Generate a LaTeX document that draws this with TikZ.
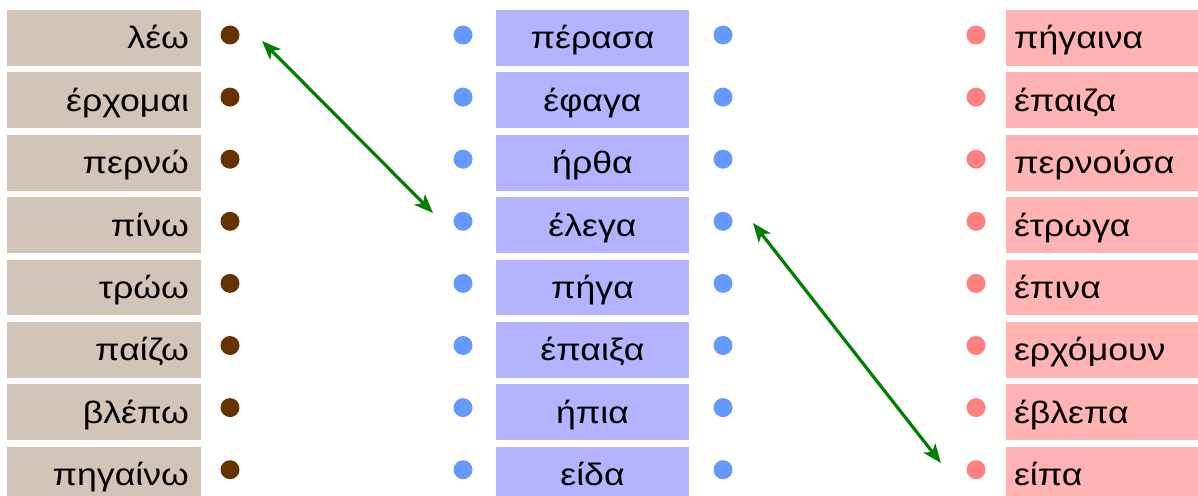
\documentclass[tikz,border=0pt]{standalone}
\usepackage{fontspec}
\setmainfont[FakeStretch=1.15]{Liberation Sans}
\usetikzlibrary{arrows.meta}
\definecolor{lcol}{HTML}{D2C4B6}
\definecolor{mcol}{HTML}{B3B3FF}
\definecolor{rcol}{HTML}{FFB3B3}
\definecolor{ldot}{HTML}{663300}
\definecolor{mdot}{HTML}{6699FF}
\definecolor{rdot}{HTML}{FF8080}
\definecolor{arrcol}{HTML}{008000}
\begin{document}
\begin{tikzpicture}[x=1pt,y=-1pt,
  wbox/.style={inner ysep=0pt, minimum height=55.8pt, text height=23pt, text depth=1pt,
    font=\fontsize{31}{35}\selectfont},
  lbox/.style={wbox, fill=lcol, inner xsep=12pt, text width=170pt, align=right},
  mbox/.style={wbox, fill=mcol, inner xsep=10pt, text width=173pt, align=center},
  rbox/.style={wbox, fill=rcol, inner xsep=8pt, text width=178pt, align=left},
  dotl/.style={circle, fill=ldot, inner sep=0pt, minimum size=19pt},
  dotm/.style={circle, fill=mdot, inner sep=0pt, minimum size=19pt},
  dotr/.style={circle, fill=rdot, inner sep=0pt, minimum size=19pt},
  match/.style={draw=arrcol, line width=3.2pt, {Stealth[length=19pt,width=15pt,inset=5pt]}-{Stealth[length=19pt,width=15pt,inset=5pt]}}
]
\useasboundingbox (0,0) rectangle (1198,495);
\begin{scope}
\clip (0,0) rectangle (1198,495);
\foreach \i/\a/\b/\c in {0/λέω/πέρασα/πήγαινα, 1/έρχομαι/έφαγα/έπαιζα, 2/περνώ/ήρθα/περνούσα,
  3/πίνω/έλεγα/έτρωγα, 4/τρώω/πήγα/έπινα, 5/παίζω/έπαιξα/ερχόμουν, 6/βλέπω/ήπια/έβλεπα,
  7/πηγαίνω/είδα/είπα}{
  \pgfmathsetmacro{\yc}{37.9+62.4*\i}
  \pgfmathsetmacro{\yd}{35+62.1*\i}
  \node[lbox] (l\i) at (104,\yc) {\a};
  \node[mbox] (m\i) at (592.5,\yc) {\b};
  \node[rbox] (r\i) at (1103,\yc) {\c};
  \node[dotl] (dl\i) at (230,\yd) {};
  \node[dotm] (dma\i) at (463,\yd) {};
  \node[dotm] (dmb\i) at (723,\yd) {};
  \node[dotr] (dr\i) at (976,\yd) {};
}
\end{scope}
\coordinate (a1s) at (262,41);
\coordinate (a1e) at (433,213);
\coordinate (a2s) at (753,223);
\coordinate (a2e) at (941,463);
\draw[match] (a1s) -- (a1e);
\draw[match] (a2s) -- (a2e);
\end{tikzpicture}
\end{document}
